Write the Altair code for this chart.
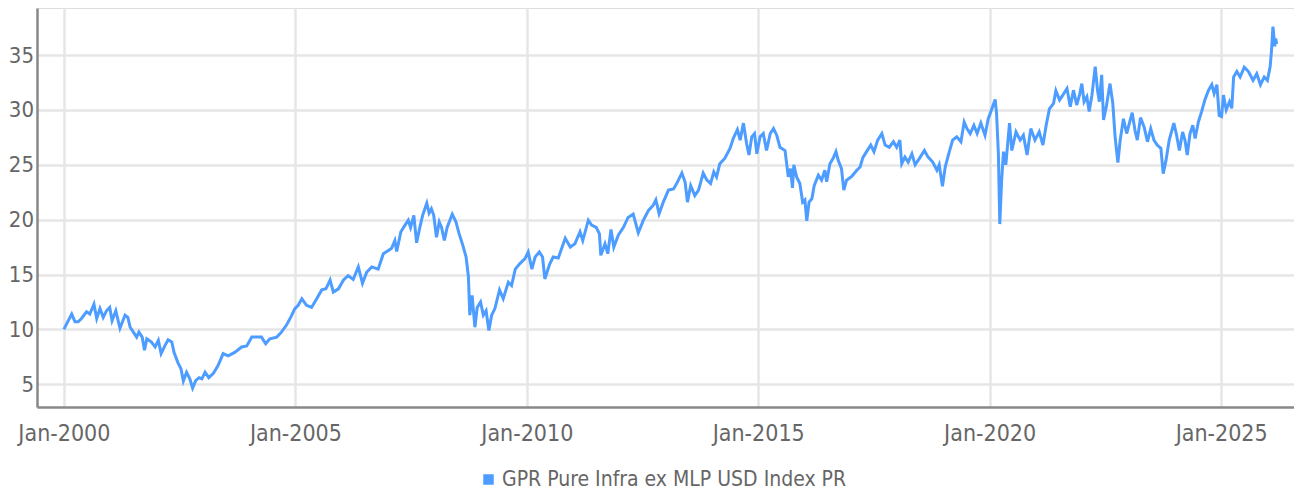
import altair as alt
import pandas as pd

SERIES = "GPR Pure Infra ex MLP USD Index PR"

# decimal years
years = [
    2000.00, 2000.06, 2000.17, 2000.24, 2000.31, 2000.38, 2000.49, 2000.56, 2000.65, 2000.71,
    2000.78, 2000.85, 2000.92, 2000.99, 2001.04, 2001.12, 2001.21, 2001.32, 2001.38, 2001.43,
    2001.50, 2001.57, 2001.62, 2001.69, 2001.74, 2001.79, 2001.89, 2001.97, 2002.04, 2002.10,
    2002.18, 2002.25, 2002.33, 2002.38, 2002.46, 2002.53, 2002.58, 2002.65, 2002.72, 2002.78,
    2002.85, 2002.92, 2002.98, 2003.05, 2003.13, 2003.23, 2003.33, 2003.44, 2003.55, 2003.69,
    2003.84, 2003.95, 2004.06, 2004.16, 2004.27, 2004.36, 2004.45, 2004.60, 2004.70, 2004.81,
    2004.90, 2004.99, 2005.06, 2005.14, 2005.24, 2005.35, 2005.46, 2005.57, 2005.66, 2005.75,
    2005.82, 2005.93, 2006.04, 2006.14, 2006.25, 2006.36, 2006.45, 2006.54, 2006.65, 2006.79,
    2006.90, 2007.01, 2007.08, 2007.15, 2007.19, 2007.28, 2007.37, 2007.44, 2007.49, 2007.56,
    2007.62, 2007.69, 2007.75, 2007.84, 2007.89, 2007.94, 2007.99, 2008.05, 2008.11, 2008.16,
    2008.22, 2008.28, 2008.39, 2008.47, 2008.54, 2008.61, 2008.69, 2008.74, 2008.77, 2008.82,
    2008.88, 2008.93, 2009.00, 2009.06, 2009.12, 2009.18, 2009.24, 2009.31, 2009.41, 2009.49,
    2009.60, 2009.67, 2009.75, 2009.85, 2009.96, 2010.03, 2010.11, 2010.18, 2010.27, 2010.34,
    2010.39, 2010.49, 2010.57, 2010.68, 2010.83, 2010.94, 2011.04, 2011.15, 2011.21, 2011.33,
    2011.40, 2011.50, 2011.57, 2011.60, 2011.69, 2011.75, 2011.82, 2011.88, 2011.98, 2012.09,
    2012.19, 2012.30, 2012.41, 2012.52, 2012.63, 2012.73, 2012.79, 2012.86, 2012.95, 2013.06,
    2013.17, 2013.25, 2013.35, 2013.42, 2013.47, 2013.54, 2013.63, 2013.71, 2013.81, 2013.89,
    2013.97, 2014.04, 2014.10, 2014.17, 2014.28, 2014.39, 2014.46, 2014.55, 2014.61, 2014.68,
    2014.75, 2014.80, 2014.86, 2014.92, 2014.97, 2015.04, 2015.11, 2015.18, 2015.26, 2015.33,
    2015.40, 2015.47, 2015.58, 2015.65, 2015.70, 2015.74, 2015.77, 2015.83, 2015.90, 2015.96,
    2016.01, 2016.05, 2016.10, 2016.16, 2016.21, 2016.30, 2016.37, 2016.44, 2016.48, 2016.55,
    2016.62, 2016.68, 2016.73, 2016.80, 2016.85, 2016.91, 2017.02, 2017.13, 2017.20, 2017.26,
    2017.34, 2017.43, 2017.50, 2017.58, 2017.67, 2017.74, 2017.83, 2017.92, 2017.99, 2018.06,
    2018.10, 2018.17, 2018.24, 2018.32, 2018.39, 2018.50, 2018.59, 2018.67, 2018.77, 2018.86,
    2018.91, 2018.98, 2019.04, 2019.11, 2019.20, 2019.29, 2019.38, 2019.45, 2019.51, 2019.58,
    2019.66, 2019.73, 2019.81, 2019.90, 2019.97, 2020.04, 2020.12, 2020.15, 2020.19, 2020.22,
    2020.26, 2020.30, 2020.35, 2020.43, 2020.48, 2020.57, 2020.66, 2020.73, 2020.81, 2020.89,
    2020.98, 2021.07, 2021.15, 2021.22, 2021.29, 2021.38, 2021.43, 2021.51, 2021.58, 2021.67,
    2021.74, 2021.81, 2021.88, 2021.94, 2021.99, 2022.04, 2022.10, 2022.15, 2022.21, 2022.28,
    2022.33, 2022.37, 2022.42, 2022.46, 2022.52, 2022.60, 2022.66, 2022.71, 2022.77, 2022.82,
    2022.89, 2022.96, 2023.02, 2023.08, 2023.14, 2023.19, 2023.26, 2023.34, 2023.41, 2023.48,
    2023.55, 2023.62, 2023.70, 2023.75, 2023.81, 2023.88, 2023.98, 2024.04, 2024.10, 2024.17,
    2024.22, 2024.27, 2024.33, 2024.39, 2024.44, 2024.51, 2024.58, 2024.65, 2024.73, 2024.80,
    2024.85, 2024.91, 2024.96, 2025.01, 2025.05, 2025.11, 2025.18, 2025.23, 2025.27, 2025.34,
    2025.41, 2025.50, 2025.59, 2025.69, 2025.77, 2025.85, 2025.93, 2026.00, 2026.06, 2026.09,
    2026.12, 2026.16, 2026.18, 2026.20,
]

values = [
    10.0, 10.5, 11.4, 10.7, 10.7, 11.0, 11.6, 11.4, 12.3, 11.0,
    11.9, 11.1, 11.7, 12.0, 10.8, 11.7, 10.1, 11.3, 11.1, 10.2,
    9.75, 9.3, 9.75, 9.3, 8.1, 9.15, 8.85, 8.4, 9.0, 7.8,
    8.5, 9.05, 8.85, 7.9, 7.0, 6.4, 5.3, 6.1, 5.5, 4.65,
    5.35, 5.6, 5.5, 6.1, 5.6, 6.0, 6.7, 7.8, 7.6, 7.9,
    8.4, 8.5, 9.3, 9.3, 9.3, 8.7, 9.15, 9.3, 9.75, 10.4,
    11.1, 11.9, 12.2, 12.8, 12.2, 12.0, 12.8, 13.6, 13.7, 14.5,
    13.4, 13.7, 14.5, 14.9, 14.55, 15.7, 14.2, 15.2, 15.7, 15.5,
    16.9, 17.2, 17.4, 18.1, 17.1, 18.9, 19.5, 19.95, 19.3, 20.4,
    17.9, 19.3, 20.4, 21.5, 20.6, 21.0, 20.4, 18.4, 19.8, 19.3,
    18.1, 19.3, 20.5, 19.8, 18.7, 17.8, 16.6, 14.8, 11.3, 13.1,
    10.2, 12.0, 12.5, 11.3, 11.7, 9.9, 11.3, 11.9, 13.6, 12.8,
    14.3, 14.0, 15.5, 16.0, 16.45, 17.05, 15.5, 16.6, 17.05, 16.6,
    14.6, 15.9, 16.6, 16.5, 18.3, 17.5, 17.8, 18.9, 18.1, 19.95,
    19.5, 19.3, 18.7, 16.75, 17.8, 16.9, 19.1, 17.5, 18.6, 19.3,
    20.2, 20.5, 18.8, 19.95, 20.85, 21.3, 21.8, 20.55, 21.6, 22.7,
    22.8, 23.4, 24.25, 23.4, 21.6, 23.1, 22.2, 22.7, 24.25, 23.6,
    23.3, 24.35, 23.9, 25.1, 25.6, 26.5, 27.4, 28.2, 27.25, 28.8,
    26.9, 25.9, 27.55, 27.85, 26.0, 27.55, 27.85, 26.3, 27.85, 28.3,
    27.7, 26.6, 26.3, 23.9, 24.65, 22.9, 25.0, 23.9, 23.3, 21.6,
    21.8, 19.9, 21.6, 21.9, 23.1, 24.05, 23.6, 24.5, 23.45, 25.1,
    25.6, 26.2, 25.4, 24.65, 22.7, 23.6, 23.95, 24.5, 24.8, 25.65,
    26.2, 26.8, 26.2, 27.25, 27.85, 26.8, 26.6, 27.1, 26.6, 27.25,
    25.1, 25.7, 25.25, 26.0, 25.0, 25.7, 26.3, 25.7, 25.25, 24.5,
    25.0, 23.05, 24.8, 25.9, 27.25, 27.55, 27.1, 28.9, 28.3, 27.85,
    28.6, 27.85, 28.8, 27.7, 29.2, 30.0, 30.95, 29.7, 26.0, 19.6,
    23.6, 26.2, 25.0, 28.8, 26.3, 28.0, 27.25, 27.7, 25.9, 28.3,
    27.25, 28.0, 26.8, 28.6, 30.1, 30.6, 31.75, 30.9, 31.35, 31.95,
    30.3, 31.8, 30.45, 31.35, 32.4, 30.75, 31.2, 29.85, 31.35, 33.95,
    31.8, 30.75, 33.2, 29.1, 30.3, 32.4, 30.6, 27.55, 25.2, 27.25,
    29.2, 27.85, 28.8, 29.75, 28.15, 27.25, 29.3, 28.4, 27.1, 28.3,
    27.25, 26.8, 26.5, 24.2, 25.4, 27.25, 28.8, 27.7, 26.3, 28.0,
    27.25, 25.9, 27.85, 28.6, 27.4, 28.9, 29.85, 30.9, 31.8, 32.3,
    31.5, 32.3, 29.5, 29.4, 31.35, 30.0, 30.75, 30.15, 33.0, 33.5,
    33.0, 33.9, 33.5, 32.7, 33.3, 32.3, 33.0, 32.7, 33.95, 35.45,
    37.6, 35.8, 36.5, 36.0,
]

tick_years = [2000, 2005, 2010, 2015, 2020, 2025]
y_ticks = [5, 10, 15, 20, 25, 30, 35]

LINE_COLOR = "#4D9CFF"
FONT = "DejaVu Sans Condensed"


def to_date(y):
    yr = int(y)
    start = pd.Timestamp(year=yr, month=1, day=1)
    return (start + pd.Timedelta(days=(y - yr) * 365.25)).strftime("%Y-%m-%dT%H:%M:%S")


df = pd.DataFrame({
    "date": [to_date(y) for y in years],
    "value": values,
    "series": SERIES,
})

x_axis = alt.Axis(
    values=[alt.DateTime(year=y, month=1, date=1) for y in tick_years],
    format="%b-%Y",
    title=None,
    ticks=False,
    labelPadding=15,
    labelFontSize=23,
    labelFont=FONT,
    labelColor="#666666",
    grid=True,
    gridColor="#e6e6e6",
    gridWidth=2.5,
    domainColor="#888888",
    domainWidth=2.5,
)

y_axis = alt.Axis(
    values=y_ticks,
    title=None,
    ticks=False,
    labelPadding=3.5,
    labelFontSize=22,
    labelFont=FONT,
    labelColor="#666666",
    grid=True,
    gridColor="#e6e6e6",
    gridWidth=2.5,
    domainColor="#888888",
    domainWidth=2.5,
)

chart = alt.Chart(df).mark_line(strokeWidth=3, clip=True).encode(
    x=alt.X(
        "date:T",
        axis=x_axis,
        scale=alt.Scale(domain=[alt.DateTime(year=1999, month=6, date=3),
                                alt.DateTime(year=2026, month=7, date=30)]),
    ),
    y=alt.Y(
        "value:Q",
        axis=y_axis,
        scale=alt.Scale(domain=[2.93, 39.29], nice=False, zero=False),
    ),
    color=alt.Color(
        "series:N",
        scale=alt.Scale(domain=[SERIES], range=[LINE_COLOR]),
        legend=alt.Legend(
            title=None,
            orient="none",
            legendX=441,
            legendY=461,
            symbolType="square",
            symbolSize=110,
            symbolFillColor=LINE_COLOR,
            symbolStrokeColor=LINE_COLOR,
            symbolStrokeWidth=0,
            labelFont=FONT,
            labelFontSize=21,
            labelColor="#666666",
            labelOffset=3,
            labelLimit=0,
        ),
    ),
).properties(
    width=1257,
    height=399,
    autosize=alt.AutoSizeParams(type="none"),
    padding={"left": 29, "top": 0, "right": 0, "bottom": 86},
).configure_view(
    stroke=None
).configure(
    background="white"
)

chart.save("out.html", embed_options={"renderer": "svg", "actions": False})
